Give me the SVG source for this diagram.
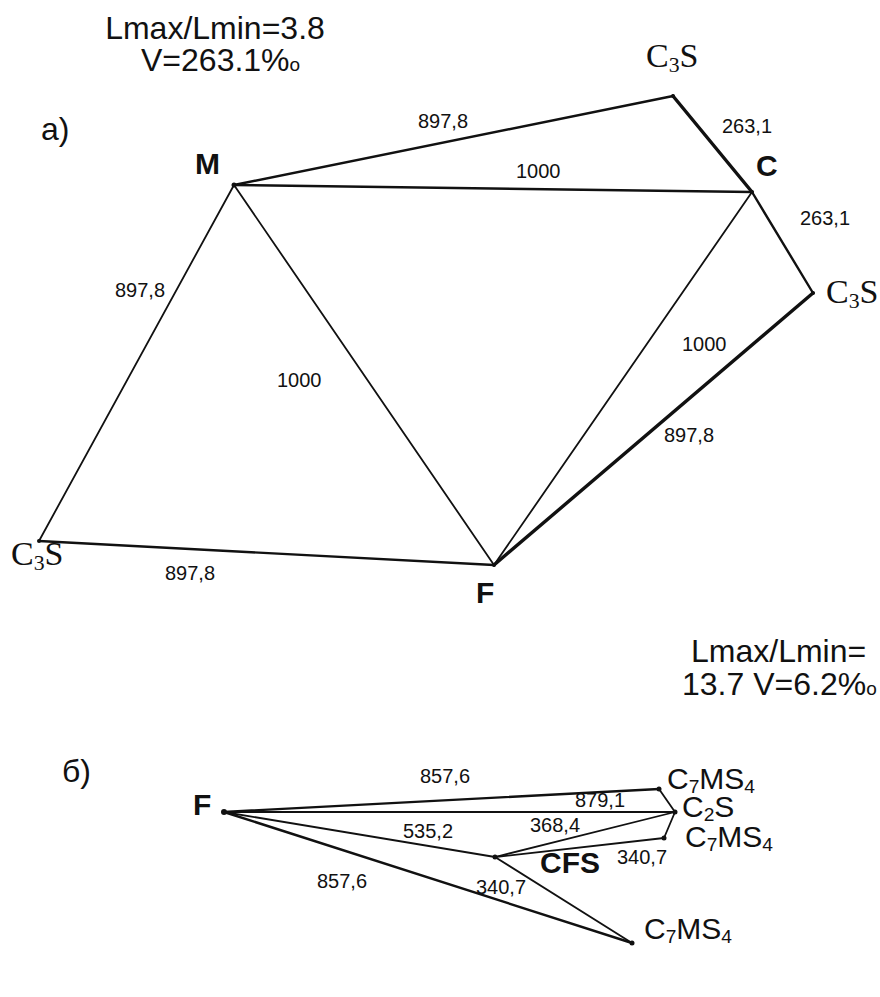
<svg xmlns="http://www.w3.org/2000/svg" width="880" height="997" viewBox="0 0 880 997">
<style>
.ln{stroke:#111;fill:none;stroke-linecap:round}
.t1{stroke-width:1.8}
.t2{stroke-width:2.4}
.t3{stroke-width:3.4}
.lbl{font-family:"Liberation Sans",Arial,sans-serif;font-size:20px;fill:#111}
.big{font-family:"Liberation Sans",Arial,sans-serif;font-size:32px;fill:#111}
.bold{font-family:"Liberation Sans",Arial,sans-serif;font-size:30px;font-weight:bold;fill:#111}
.ser{font-family:"Liberation Serif","Times New Roman",serif;font-size:34px;fill:#111}
.chem{font-family:"Liberation Sans",Arial,sans-serif;font-size:30px;fill:#111}
.sub{font-size:64%}
</style>
<rect width="880" height="997" fill="#fff"/>
<text class="big" x="215" y="39" text-anchor="middle">Lmax/Lmin=3.8</text>
<text class="big" x="141" y="71">V=263.1%<tspan font-size="19px">o</tspan></text>
<text class="big" x="41" y="140">a)</text>
<text class="big" x="691" y="662">Lmax/Lmin=</text>
<text class="big" x="682" y="695">13.7 V=6.2%<tspan font-size="19px">o</tspan></text>
<text class="big" x="62" y="782">б)</text>
<g id="connectors">
<line class="ln t2" x1="234" y1="185" x2="673" y2="96"/>
<line class="ln t3" x1="673" y1="96" x2="752" y2="192"/>
<line class="ln t2" x1="234" y1="185" x2="752" y2="192"/>
<line class="ln t2" x1="752" y1="192" x2="813" y2="293"/>
<line class="ln t3" x1="813" y1="293" x2="494" y2="565"/>
<line class="ln t1" x1="752" y1="192" x2="494" y2="565"/>
<line class="ln t1" x1="234" y1="185" x2="494" y2="565"/>
<line class="ln t1" x1="234" y1="185" x2="39" y2="541"/>
<line class="ln t2" x1="39" y1="541" x2="494" y2="565"/>
<line class="ln t2" x1="224" y1="812" x2="659" y2="789"/>
<line class="ln t1" x1="224" y1="812" x2="675" y2="812"/>
<line class="ln t1" x1="224" y1="812" x2="495" y2="857"/>
<line class="ln t2" x1="224" y1="812" x2="632" y2="943"/>
<line class="ln t1" x1="659" y1="789" x2="675" y2="812"/>
<line class="ln t1" x1="675" y1="812" x2="664" y2="838"/>
<line class="ln t1" x1="495" y1="857" x2="675" y2="812"/>
<line class="ln t1" x1="495" y1="857" x2="664" y2="838"/>
<line class="ln t1" x1="495" y1="857" x2="632" y2="943"/>
</g>
<g id="edge-labels">
<text class="lbl" x="418" y="128">897,8</text>
<text class="lbl" x="516" y="178">1000</text>
<text class="lbl" x="722" y="133">263,1</text>
<text class="lbl" x="800" y="225">263,1</text>
<text class="lbl" x="115" y="297">897,8</text>
<text class="lbl" x="277" y="387">1000</text>
<text class="lbl" x="682" y="351">1000</text>
<text class="lbl" x="664" y="442">897,8</text>
<text class="lbl" x="165" y="580">897,8</text>
<text class="lbl" x="420" y="783">857,6</text>
<text class="lbl" x="575" y="807">879,1</text>
<text class="lbl" x="530" y="832">368,4</text>
<text class="lbl" x="403" y="838">535,2</text>
<text class="lbl" x="317" y="888">857,6</text>
<text class="lbl" x="476" y="894">340,7</text>
<text class="lbl" x="617" y="864">340,7</text>
</g>
<g id="node-M"><circle cx="234" cy="185" r="2.5" fill="#111"/><text class="bold" x="195" y="174">M</text></g>
<g id="node-C3S-top"><circle cx="673" cy="96" r="2" fill="#111"/><text class="ser" x="646" y="67">C<tspan class="sub" dy="5">3</tspan><tspan dy="-5">S</tspan></text></g>
<g id="node-C"><circle cx="752" cy="192" r="2" fill="#111"/><text class="bold" x="756" y="176">C</text></g>
<g id="node-C3S-right"><circle cx="813" cy="293" r="2" fill="#111"/><text class="ser" x="826" y="303">C<tspan class="sub" dy="5">3</tspan><tspan dy="-5">S</tspan></text></g>
<g id="node-C3S-left"><circle cx="39" cy="541" r="2" fill="#111"/><text class="ser" x="11" y="565">C<tspan class="sub" dy="5">3</tspan><tspan dy="-5">S</tspan></text></g>
<g id="node-F"><circle cx="494" cy="565" r="2" fill="#111"/><text class="bold" x="476" y="603">F</text></g>
<g id="node-F2"><circle cx="224" cy="812" r="3" fill="#111"/><text class="bold" x="193" y="815">F</text></g>
<g id="node-C7MS4-top"><circle cx="659" cy="789" r="2.5" fill="#111"/><text class="chem" x="667" y="789">C<tspan class="sub" dy="4">7</tspan><tspan dy="-4">MS</tspan><tspan class="sub" dy="4">4</tspan></text></g>
<g id="node-C2S"><circle cx="675" cy="812" r="2.5" fill="#111"/><text class="chem" x="682" y="817">C<tspan class="sub" dy="4">2</tspan><tspan dy="-4">S</tspan></text></g>
<g id="node-C7MS4-mid"><circle cx="664" cy="838" r="2.5" fill="#111"/><text class="chem" x="685" y="847">C<tspan class="sub" dy="4">7</tspan><tspan dy="-4">MS</tspan><tspan class="sub" dy="4">4</tspan></text></g>
<g id="node-CFS"><circle cx="495" cy="857" r="2.5" fill="#111"/><text class="bold" x="540" y="873">CFS</text></g>
<g id="node-C7MS4-bottom"><circle cx="632" cy="943" r="2.5" fill="#111"/><text class="chem" x="644" y="939">C<tspan class="sub" dy="4">7</tspan><tspan dy="-4">MS</tspan><tspan class="sub" dy="4">4</tspan></text></g>
</svg>
